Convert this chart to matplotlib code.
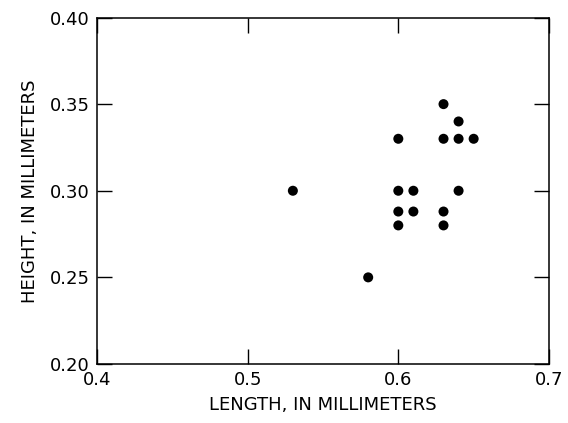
import matplotlib
matplotlib.use("Agg")
import matplotlib.pyplot as plt

# Shell length and height measurements (mm)
length_mm = [0.53, 0.58,
             0.60, 0.60, 0.60, 0.60,
             0.61, 0.61,
             0.63, 0.63, 0.63, 0.63,
             0.64, 0.64, 0.64,
             0.65]
height_mm = [0.30, 0.25,
             0.33, 0.30, 0.288, 0.28,
             0.30, 0.288,
             0.35, 0.33, 0.288, 0.28,
             0.34, 0.33, 0.30,
             0.33]

x_ticks = [0.4, 0.5, 0.6, 0.7]
x_tick_labels = ["0.4", "0.5", "0.6", "0.7"]
y_ticks = [0.20, 0.25, 0.30, 0.35, 0.40]
y_tick_labels = ["0.20", "0.25", "0.30", "0.35", "0.40"]

plt.rcParams["font.family"] = ["DejaVu Sans"]

fig = plt.figure(figsize=(5.68, 4.23), dpi=100)
ax = fig.add_axes([0.1708, 0.1395, 0.7957, 0.8191])

ax.scatter(length_mm, height_mm, s=52, color="black", edgecolors="none",
           zorder=3, clip_on=False)

ax.set_xlim(0.4, 0.7)
ax.set_ylim(0.20, 0.40)
ax.set_xticks(x_ticks)
ax.set_xticklabels(x_tick_labels)
ax.set_yticks(y_ticks)
ax.set_yticklabels(y_tick_labels)

ax.tick_params(axis="both", which="major", direction="in", length=11,
               width=1.0, labelsize=13, pad=5,
               top=True, right=True, color="black")
for spine in ax.spines.values():
    spine.set_linewidth(1.1)
    spine.set_color("black")

ax.set_xlabel("LENGTH, IN MILLIMETERS", fontsize=13, labelpad=5)
ax.set_ylabel("HEIGHT, IN MILLIMETERS", fontsize=13, labelpad=8)

fig.savefig("out.png", dpi=100)
